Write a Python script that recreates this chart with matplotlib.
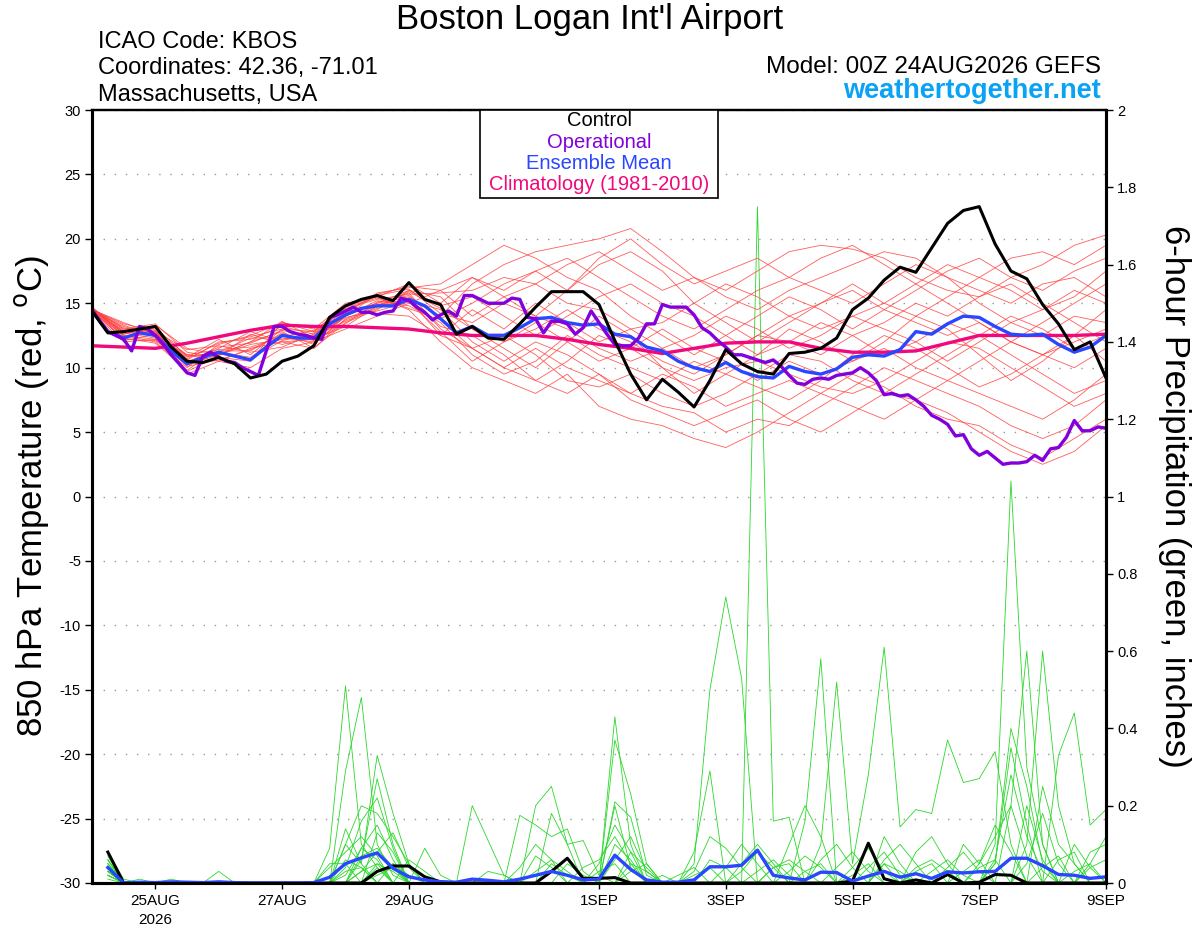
import numpy as np
import matplotlib.pyplot as plt
from matplotlib.patches import Rectangle

plt.rcParams['font.family'] = ['Liberation Sans', 'DejaVu Sans']
plt.rcParams['axes.unicode_minus'] = False

# forecast hours (GEFS 00Z 24AUG2026 run)
hours_3h = np.arange(0, 385, 3)
hours_6h = np.arange(0, 385, 6)
hours_12h = np.arange(0, 385, 12)
precip_hours = np.arange(6, 385, 6)

date_ticks = [24, 72, 120, 192, 240, 288, 336, 384]
date_labels = ['25AUG\n2026', '27AUG', '29AUG', '1SEP', '3SEP', '5SEP', '7SEP', '9SEP']

# 850 hPa temperature (C)
control_temp = [14.4, 12.7, 12.8, 13.0, 13.2, 11.6, 10.5, 10.4, 10.8, 10.3,
                9.2, 9.5, 10.5, 10.9, 11.7, 13.9, 14.8, 15.3, 15.6, 15.2,
                16.6, 15.3, 14.9, 12.6, 13.2, 12.3, 12.2, 13.4, 14.7, 15.9,
                15.9, 15.9, 14.9, 12.1, 9.5, 7.5, 9.1, 8.1, 6.95, 9.0,
                11.4, 10.3, 9.7, 9.5, 11.1, 11.2, 11.5, 12.3, 14.5, 15.4,
                16.8, 17.8, 17.4, 19.3, 21.2, 22.2, 22.5, 19.6, 17.5, 16.9,
                14.9, 13.4, 11.4, 12.0, 9.2]

mean_temp = [14.4, 12.8, 12.3, 12.7, 12.5, 11.3, 10.3, 10.8, 11.2, 10.9,
             10.6, 11.6, 12.5, 12.3, 12.3, 13.4, 14.1, 14.6, 14.8, 14.8,
             15.3, 14.8, 13.8, 12.7, 13.2, 12.5, 12.5, 13.1, 13.8, 13.9,
             13.5, 13.3, 13.4, 12.6, 12.4, 11.6, 11.3, 10.5, 10.0, 9.7,
             10.4, 9.7, 9.3, 9.2, 10.1, 9.7, 9.5, 9.9, 10.8, 11.0,
             10.9, 11.4, 12.8, 12.6, 13.4, 14.0, 13.9, 13.2, 12.6, 12.5,
             12.6, 11.8, 11.2, 11.6, 12.5]

oper_temp = [14.5, 13.6, 12.8, 12.5, 12.2, 11.3, 13.2, 13.0, 12.5, 11.8,
             11.0, 10.3, 9.6, 9.4, 10.9, 11.2, 10.8, 10.5, 10.4, 10.0,
             9.7, 9.4, 11.3, 13.2, 13.2, 12.8, 12.6, 12.5, 12.3, 12.2,
             13.9, 14.1, 14.4, 14.7, 14.3, 14.3, 14.1, 14.3, 14.4, 15.4,
             15.2, 14.7, 14.3, 13.7,
             14.1, 14.4, 14.0, 15.6, 15.6, 15.3, 15.0, 15.0, 15.0, 15.4,
             15.3, 13.9, 13.8, 12.7, 13.6, 13.6, 13.4, 12.6, 13.1, 14.4,
             13.5, 12.6, 11.8, 11.7, 11.7, 12.3, 13.4, 13.4, 14.9, 14.7,
             14.7, 14.7, 14.1, 13.1, 12.7, 12.1, 11.6, 11.0, 11.0, 10.8,
             10.6, 10.4,
             10.6, 10.1, 9.4, 8.8, 8.7, 9.1, 9.2, 9.1, 9.4, 9.5,
             9.6, 10.0, 9.6, 9.0, 7.9, 8.0, 7.8, 7.9, 7.5, 7.0,
             6.3, 6.0, 5.6, 4.7, 4.8, 3.7, 3.2, 3.5, 3.0, 2.5,
             2.6, 2.6, 2.7, 3.2, 2.8, 3.7, 3.8, 4.6, 5.9, 5.1,
             5.1, 5.4, 5.3]

clim_temp = [11.7, 11.6, 11.5, 11.9, 12.4, 12.9, 13.3, 13.2, 13.2, 13.1,
             13.0, 12.7, 12.5, 12.5, 12.5, 12.2, 11.8, 11.5, 11.1, 11.5,
             11.9, 12.0, 12.0, 11.5, 11.2, 11.2, 11.3, 11.9, 12.5, 12.5,
             12.5, 12.5, 12.6]

member_temps = [
    [14.5, 12.8, 13.0, 10.5, 11.2, 10.8, 12.5, 12.2, 14.0, 15.0, 15.5, 14.0, 16.5, 18.0, 19.0, 19.5, 20.0, 20.8, 19.0, 17.0, 16.0, 17.5, 19.0, 19.5, 19.2, 18.5, 17.0, 16.0, 15.5, 17.0, 18.0, 19.5, 20.3],
    [14.4, 13.2, 12.5, 9.5, 10.5, 11.5, 12.0, 11.5, 13.5, 14.5, 16.0, 15.5, 13.0, 11.5, 10.0, 12.0, 14.0, 12.5, 10.0, 8.0, 9.5, 11.0, 13.0, 12.0, 10.5, 12.0, 14.0, 13.0, 11.0, 9.0, 10.5, 12.5, 14.5],
    [14.6, 12.5, 12.0, 10.0, 11.8, 12.5, 13.5, 12.8, 14.8, 15.5, 14.5, 12.0, 10.0, 9.0, 8.0, 9.5, 7.0, 6.0, 5.5, 4.5, 3.8, 5.0, 6.5, 8.0, 9.5, 8.5, 7.0, 6.0, 5.5, 4.0, 3.0, 4.5, 6.0],
    [14.5, 13.0, 12.8, 11.0, 10.5, 10.0, 11.5, 12.0, 13.0, 14.0, 15.0, 16.0, 17.0, 15.5, 14.0, 16.0, 18.0, 19.0, 17.5, 15.0, 13.5, 12.0, 13.5, 15.0, 16.5, 15.0, 14.0, 15.5, 17.0, 16.0, 14.5, 15.5, 17.5],
    [14.3, 12.0, 12.2, 10.2, 11.0, 12.0, 12.8, 11.5, 13.8, 14.8, 15.8, 13.0, 11.5, 12.5, 11.0, 9.0, 8.5, 9.5, 8.0, 7.0, 8.0, 9.5, 11.0, 10.5, 9.0, 8.0, 9.5, 11.0, 12.5, 11.0, 9.5, 8.0, 9.0],
    [14.7, 12.6, 13.3, 11.5, 11.0, 11.8, 12.2, 12.5, 14.2, 15.8, 16.2, 16.5, 18.0, 19.5, 18.5, 17.0, 16.0, 14.0, 12.5, 11.0, 12.5, 14.0, 15.5, 14.5, 13.0, 14.5, 16.0, 17.5, 18.5, 17.0, 16.0, 17.5, 18.5],
    [14.5, 13.5, 12.6, 10.8, 12.2, 11.0, 13.0, 12.8, 14.5, 14.2, 14.0, 12.5, 14.5, 13.0, 15.0, 13.5, 12.0, 13.0, 11.5, 10.0, 11.0, 12.5, 12.0, 13.5, 12.5, 11.0, 12.0, 13.5, 12.5, 14.0, 13.0, 11.5, 12.5],
    [14.4, 12.3, 11.9, 9.8, 11.5, 12.8, 12.0, 12.2, 13.2, 14.8, 15.2, 14.5, 12.0, 10.5, 12.0, 11.0, 9.5, 8.0, 7.0, 6.5, 5.0, 6.0, 5.5, 7.0, 8.5, 10.0, 9.0, 8.0, 7.0, 5.5, 4.5, 5.5, 7.5],
    [14.6, 13.0, 13.4, 11.2, 10.8, 10.5, 13.5, 13.0, 15.0, 15.5, 16.5, 15.0, 17.0, 16.0, 17.5, 18.5, 17.0, 15.5, 14.0, 13.0, 14.5, 16.0, 17.0, 18.5, 19.5, 18.0, 16.5, 15.0, 13.5, 12.0, 13.5, 15.0, 16.5],
    [14.5, 12.7, 12.3, 10.3, 11.3, 11.3, 12.7, 11.8, 14.0, 15.2, 14.8, 13.5, 11.0, 9.5, 10.5, 12.5, 11.0, 10.0, 9.0, 10.5, 9.5, 8.5, 7.5, 9.0, 11.0, 12.5, 11.5, 10.0, 8.5, 9.5, 11.0, 10.0, 11.5],
    [14.4, 12.9, 12.7, 10.6, 12.0, 12.2, 13.2, 12.6, 14.3, 15.0, 16.0, 14.8, 15.5, 14.0, 12.5, 14.0, 15.5, 16.5, 15.0, 14.0, 12.5, 11.0, 12.0, 11.0, 12.5, 13.5, 15.0, 14.0, 15.5, 16.5, 15.0, 13.5, 12.0],
    [14.6, 12.4, 12.9, 9.7, 10.9, 12.6, 11.8, 12.4, 13.6, 14.6, 15.4, 13.2, 12.5, 11.0, 9.0, 8.0, 9.5, 7.5, 6.5, 5.5, 6.5, 7.5, 6.0, 5.0, 6.5, 8.0, 7.5, 6.5, 5.0, 3.5, 2.5, 3.5, 5.5],
    [14.5, 13.3, 12.4, 11.0, 11.4, 11.6, 12.4, 12.9, 14.6, 15.3, 15.7, 15.8, 16.0, 17.0, 16.5, 15.0, 14.5, 13.0, 13.5, 15.0, 16.5, 15.5, 14.0, 13.0, 14.0, 15.0, 16.5, 18.0, 17.0, 18.5, 19.0, 18.0, 19.5],
    [14.4, 12.2, 12.1, 10.4, 11.6, 11.9, 12.9, 12.3, 13.9, 14.4, 15.1, 12.8, 10.5, 12.0, 13.5, 12.0, 10.5, 11.5, 10.0, 9.0, 10.0, 10.5, 9.5, 8.5, 8.0, 9.0, 10.5, 12.0, 11.5, 10.0, 8.5, 7.0, 8.0],
    [14.7, 12.6, 13.1, 10.9, 11.1, 10.7, 12.1, 12.7, 14.4, 15.6, 16.1, 14.2, 13.5, 15.0, 14.0, 13.0, 11.5, 10.5, 11.5, 12.5, 14.0, 13.0, 11.5, 12.5, 14.0, 13.0, 12.0, 10.5, 12.0, 13.5, 12.5, 14.0, 13.5],
    [14.5, 12.8, 12.5, 10.1, 10.6, 11.4, 12.6, 12.1, 13.4, 15.1, 15.6, 13.8, 15.0, 16.5, 17.5, 16.0, 18.5, 20.0, 18.0, 16.5, 17.5, 18.5, 17.0, 16.0, 15.0, 16.5, 18.0, 17.0, 16.0, 15.0, 16.5, 17.0, 15.5],
    [14.6, 13.1, 12.7, 10.7, 11.9, 12.4, 13.0, 12.4, 14.1, 14.9, 15.3, 12.5, 11.5, 10.0, 9.0, 10.5, 12.5, 11.5, 13.0, 11.5, 10.5, 9.0, 10.5, 9.5, 10.5, 11.5, 10.0, 9.0, 10.5, 12.0, 11.0, 12.5, 10.5],
    [14.4, 12.5, 12.2, 10.2, 11.2, 12.3, 12.3, 12.0, 13.7, 14.7, 15.9, 14.6, 13.0, 12.0, 13.0, 14.5, 13.0, 12.0, 10.5, 9.5, 11.0, 12.5, 14.0, 15.0, 16.0, 14.5, 13.5, 12.5, 13.5, 12.0, 11.0, 12.0, 13.0],
    [14.5, 13.4, 12.8, 11.4, 11.7, 11.2, 11.6, 12.6, 14.7, 15.4, 14.6, 13.7, 11.5, 10.0, 11.5, 10.0, 9.0, 8.0, 9.5, 8.5, 7.0, 8.0, 9.0, 8.0, 7.0, 6.0, 7.5, 9.0, 8.0, 7.0, 6.0, 7.5, 9.5],
    [14.6, 12.1, 12.6, 10.9, 11.0, 12.0, 13.6, 12.3, 14.0, 15.7, 16.3, 16.0, 14.0, 15.5, 16.5, 18.0, 19.0, 17.5, 16.0, 17.0, 15.5, 14.5, 16.0, 17.0, 18.0, 19.0, 18.5, 17.0, 15.0, 13.5, 14.5, 16.0, 15.0],
]

# 6-hour precipitation (inches), from hour 6 on
control_precip = {6: 0.08, 108: 0.03, 114: 0.044, 120: 0.044, 126: 0.016, 132: 0.003,
                  174: 0.03, 180: 0.064, 186: 0.012, 192: 0.012, 198: 0.014,
                  288: 0.005, 294: 0.103, 300: 0.011, 312: 0.008, 324: 0.022,
                  336: 0.002, 342: 0.022, 348: 0.02}

mean_precip = [0.04, 0.0, 0.002, 0.001, 0.003, 0.002, 0.001, 0.003, 0.001,
               0.0, 0.0, 0.0, 0.0, 0.001, 0.015, 0.05, 0.065, 0.078, 0.038,
               0.016, 0.008, 0.003, 0.002, 0.01, 0.007, 0.003, 0.01, 0.02, 0.03,
               0.02, 0.008, 0.01, 0.072, 0.035, 0.008, 0.002, 0.002, 0.008, 0.042,
               0.042, 0.046, 0.085, 0.02, 0.013, 0.008, 0.028, 0.027, 0.005, 0.018,
               0.03, 0.015, 0.024, 0.012, 0.029, 0.026, 0.029, 0.03, 0.064, 0.064,
               0.045, 0.022, 0.02, 0.012, 0.016]

member_precip = [
    {6: 0.05, 90: 0.09, 96: 0.51, 102: 0.1, 108: 0.04, 198: 0.43, 204: 0.1, 252: 1.75, 258: 0.16, 264: 0.17, 342: 0.1, 348: 1.04, 354: 0.3, 360: 0.1},
    {6: 0.03, 96: 0.29, 102: 0.48, 108: 0.1, 114: 0.02, 168: 0.2, 174: 0.25, 180: 0.1, 228: 0.05, 234: 0.5, 240: 0.74, 246: 0.53, 300: 0.05, 348: 0.2, 354: 0.6, 360: 0.1},
    {6: 0.08, 12: 0.01, 96: 0.14, 102: 0.05, 108: 0.33, 114: 0.18, 120: 0.05, 198: 0.37, 204: 0.23, 210: 0.05, 270: 0.16, 276: 0.58, 354: 0.1, 360: 0.6, 366: 0.2, 372: 0.05},
    {6: 0.02, 48: 0.03, 102: 0.06, 108: 0.27, 114: 0.1, 144: 0.2, 150: 0.11, 156: 0.02, 228: 0.08, 234: 0.29, 276: 0.1, 282: 0.52, 288: 0.05, 294: 0.28, 300: 0.61, 306: 0.145, 312: 0.19, 318: 0.18, 324: 0.37, 330: 0.26, 336: 0.27, 342: 0.34, 348: 0.1},
    {6: 0.04, 90: 0.05, 96: 0.05, 108: 0.13, 114: 0.08, 126: 0.09, 132: 0.02, 162: 0.175, 168: 0.15, 174: 0.12, 180: 0.14, 186: 0.03, 198: 0.21, 204: 0.17, 210: 0.02, 264: 0.1, 270: 0.2, 276: 0.12, 366: 0.33, 372: 0.44, 378: 0.15, 384: 0.19},
    {6: 0.06, 96: 0.1, 102: 0.2, 108: 0.18, 114: 0.12, 120: 0.05, 174: 0.18, 180: 0.1, 186: 0.11, 192: 0.02, 246: 0.05, 252: 0.1, 258: 0.05, 312: 0.08, 318: 0.12, 324: 0.05, 354: 0.2, 360: 0.06, 378: 0.05, 384: 0.12},
    {6: 0.03, 30: 0.01, 102: 0.09, 108: 0.15, 114: 0.06, 192: 0.05, 198: 0.15, 204: 0.08, 228: 0.03, 234: 0.12, 240: 0.09, 246: 0.04, 300: 0.06, 306: 0.1, 312: 0.05, 342: 0.05, 348: 0.35, 354: 0.15},
    {6: 0.01, 90: 0.04, 96: 0.08, 102: 0.12, 108: 0.07, 150: 0.03, 156: 0.02, 204: 0.05, 210: 0.03, 258: 0.04, 264: 0.06, 270: 0.03, 330: 0.1, 336: 0.05, 342: 0.12, 348: 0.2, 354: 0.07},
    {6: 0.07, 96: 0.04, 102: 0.16, 108: 0.22, 114: 0.09, 180: 0.05, 186: 0.02, 240: 0.04, 246: 0.1, 252: 0.05, 288: 0.04, 294: 0.09, 300: 0.03, 360: 0.25, 366: 0.1, 372: 0.05},
    {6: 0.02, 108: 0.05, 114: 0.03, 168: 0.07, 174: 0.04, 198: 0.1, 204: 0.06, 264: 0.03, 270: 0.07, 276: 0.04, 318: 0.03, 324: 0.06, 330: 0.02, 378: 0.08, 384: 0.1},
    {6: 0.05, 96: 0.06, 102: 0.04, 114: 0.05, 198: 0.2, 204: 0.04, 222: 0.02, 228: 0.04, 294: 0.04, 300: 0.08, 306: 0.02, 336: 0.05, 342: 0.15, 348: 0.08},
    {6: 0.03, 102: 0.03, 108: 0.08, 114: 0.13, 120: 0.04, 162: 0.04, 168: 0.1, 174: 0.06, 276: 0.06, 282: 0.1, 288: 0.04, 342: 0.06, 348: 0.28, 354: 0.12, 360: 0.03},
    {6: 0.04, 96: 0.1, 102: 0.05, 186: 0.04, 192: 0.06, 198: 0.12, 204: 0.05, 234: 0.06, 240: 0.04, 300: 0.05, 306: 0.03, 324: 0.04, 330: 0.08, 336: 0.03, 372: 0.1, 378: 0.04},
    {6: 0.06, 102: 0.07, 108: 0.09, 114: 0.04, 204: 0.08, 210: 0.04, 252: 0.03, 258: 0.06, 264: 0.02, 312: 0.04, 318: 0.06, 324: 0.03, 354: 0.05, 360: 0.18, 366: 0.05},
    {6: 0.02, 108: 0.04, 120: 0.06, 126: 0.03, 174: 0.05, 180: 0.02, 282: 0.04, 288: 0.08, 294: 0.03, 342: 0.05, 348: 0.4, 354: 0.25, 360: 0.05},
    {6: 0.05, 96: 0.02, 102: 0.09, 108: 0.06, 198: 0.06, 204: 0.12, 210: 0.03, 246: 0.03, 252: 0.08, 258: 0.04, 300: 0.12, 306: 0.05, 366: 0.06, 372: 0.08},
    {6: 0.03, 108: 0.02, 114: 0.04, 192: 0.03, 198: 0.05, 270: 0.03, 276: 0.05, 336: 0.04, 342: 0.06},
    {6: 0.02, 18: 0.01, 102: 0.03, 108: 0.05, 168: 0.03, 174: 0.06, 180: 0.03, 312: 0.03, 318: 0.05, 378: 0.04, 384: 0.06},
    {6: 0.04, 96: 0.03, 102: 0.04, 204: 0.03, 210: 0.05, 228: 0.02, 234: 0.04, 288: 0.02, 294: 0.05, 360: 0.04, 366: 0.07},
    {6: 0.06, 108: 0.03, 114: 0.05, 120: 0.02, 216: 0.02, 258: 0.04, 264: 0.05, 330: 0.03, 336: 0.06, 372: 0.03, 378: 0.05},
]

RED = '#ff4040'
GREEN = '#2ad82a'
BLACK = 'black'
PURPLE = '#8200dc'
BLUE = '#2a46ff'
PINK = '#f0087c'

fig = plt.figure(figsize=(12, 9.27), dpi=100)
ax = fig.add_axes([92 / 1200, 1 - 883 / 927, 1014 / 1200, 773 / 927])
ax2 = ax.twinx()
ax.set_zorder(ax2.get_zorder() + 1)
ax.patch.set_visible(False)

# precipitation (right axis)
for m in member_precip:
    ax2.plot(precip_hours, [m.get(h, 0.0) for h in precip_hours], color=GREEN, lw=0.6)
ax2.plot(precip_hours, [control_precip.get(h, 0.0) for h in precip_hours], color=BLACK, lw=2.2)
ax2.plot(precip_hours, mean_precip, color=BLUE, lw=2.4)

# temperature (left axis)
for m in member_temps:
    ax.plot(hours_12h, m, color=RED, lw=0.6, alpha=0.85)
ax.plot(hours_12h, clim_temp, color=PINK, lw=2.4)
ax.plot(hours_6h, mean_temp, color=BLUE, lw=2.4)
ax.plot(hours_3h, oper_temp, color=PURPLE, lw=2.4)
ax.plot(hours_6h, control_temp, color=BLACK, lw=2.2)

ax.set_xlim(0, 384)
ax.set_ylim(-30, 30)
ax2.set_ylim(0, 2)
ax.set_yticks(np.arange(-30, 31, 5))
ax2.set_yticks(np.arange(0, 2.01, 0.2))
ax2.set_yticklabels(['0', '0.2', '0.4', '0.6', '0.8', '1', '1.2', '1.4', '1.6', '1.8', '2'])
ax.set_xticks(date_ticks)
ax.set_xticklabels(date_labels, fontsize=11, linespacing=1.4)
ax.tick_params(axis='y', direction='out', length=5, width=1, labelsize=10.5, pad=3)
ax.tick_params(axis='x', direction='out', length=4, width=1, pad=4)
ax2.tick_params(axis='y', direction='out', length=5, width=1, labelsize=10.5, pad=3)

ax.grid(axis='y', color='#999999', lw=1, ls=(0, (1, 7)))
ax.set_axisbelow(True)

for a in (ax, ax2):
    for side in ('left', 'right', 'bottom'):
        a.spines[side].set_linewidth(2.2)
    a.spines['top'].set_linewidth(1.6)

# legend box
ax.add_patch(Rectangle((0.3826, 0.886), 0.2348, 0.114, transform=ax.transAxes,
                       fill=True, facecolor='white', edgecolor='black', lw=1.2,
                       zorder=10, clip_on=False))
for label, col, yy in [('Control', BLACK, 0.9858), ('Operational', PURPLE, 0.9586),
                       ('Ensemble Mean', BLUE, 0.9314),
                       ('Climatology (1981-2010)', PINK, 0.9035)]:
    ax.text(0.5, yy, label, color=col, fontsize=14.5, ha='center', va='center',
            transform=ax.transAxes, zorder=11)

fig.text(32 / 1200, 1 - 496 / 927, '850 hPa Temperature (red, $^\\mathrm{o}$C)',
         rotation=90, ha='center', va='center', fontsize=25)
fig.text(1174 / 1200, 1 - 496 / 927, '6-hour Precipitation (green, inches)',
         rotation=270, ha='center', va='center', fontsize=25)

fig.text(590 / 1200, 1 - 20 / 927, "Boston Logan Int'l Airport", ha='center', va='center',
         fontsize=25)
fig.text(98 / 1200, 1 - 42 / 927, 'ICAO Code: KBOS', ha='left', va='center', fontsize=17)
fig.text(98 / 1200, 1 - 68 / 927, 'Coordinates: 42.36, -71.01', ha='left', va='center',
         fontsize=17)
fig.text(98 / 1200, 1 - 95 / 927, 'Massachusetts, USA', ha='left', va='center', fontsize=17)
fig.text(1101 / 1200, 1 - 67 / 927, 'Model: 00Z 24AUG2026 GEFS', ha='right', va='center',
         fontsize=17.5)
fig.text(1101 / 1200, 1 - 91 / 927, 'weathertogether.net', ha='right', va='center',
         fontsize=19.5, fontweight='bold', color='#0aa2f5')

fig.savefig('out.png', dpi=100)
